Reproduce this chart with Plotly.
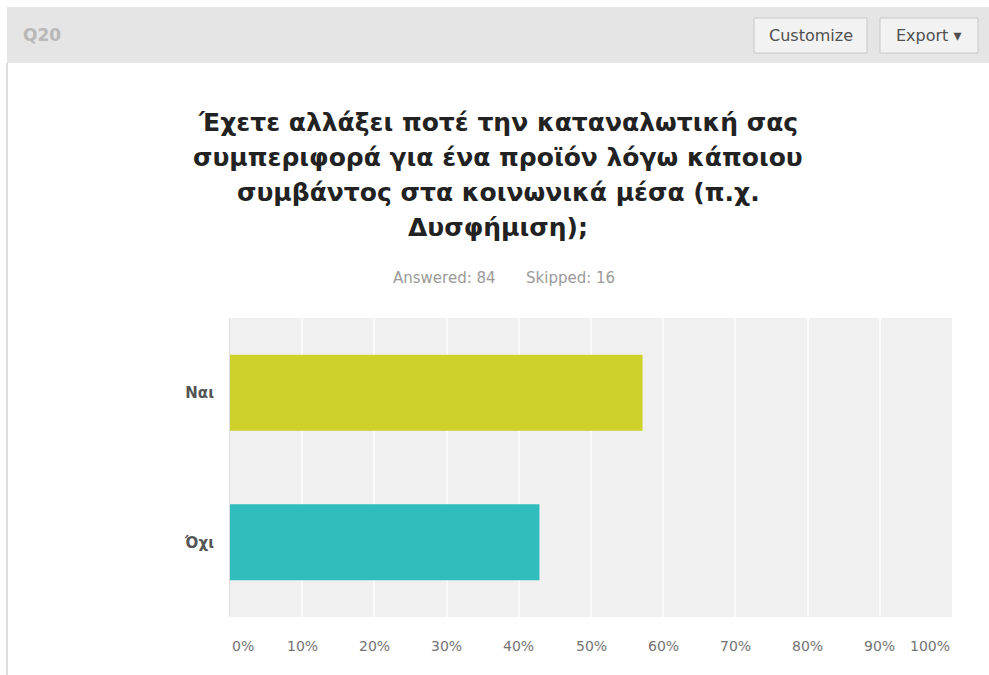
import plotly.graph_objects as go

# Survey question Q20 results
categories = ["Ναι", "Όχι"]
percentages = [57.14, 42.86]
bar_colors = ["#cdd129", "#31bdbd"]
tick_values = [0, 10, 20, 30, 40, 50, 60, 70, 80, 90, 100]
tick_labels = ["0%", "10%", "20%", "30%", "40%", "50%", "60%", "70%", "80%", "90%", "100%"]
title_lines = [
    "Έχετε αλλάξει ποτέ την καταναλωτική σας",
    "συμπεριφορά για ένα προϊόν λόγω κάποιου",
    "συμβάντος στα κοινωνικά μέσα (π.χ.",
    "Δυσφήμιση);",
]
answered = 84
skipped = 16

W, H = 989, 675
SANS = "DejaVu Sans"


def py(pix):
    """Convert a pixel row (from top) to paper y."""
    return 1 - pix / H


def px(pix):
    return pix / W


fig = go.Figure()
fig.add_trace(go.Bar(
    y=categories,
    x=percentages,
    orientation="h",
    marker=dict(color=bar_colors, line=dict(width=0)),
    hoverinfo="skip",
))

shapes = [
    # header band
    dict(type="rect", xref="paper", yref="paper", x0=px(7), x1=1.0, y0=py(63), y1=py(7),
         fillcolor="#e5e5e5", line=dict(width=0), layer="below"),
    # left panel border
    dict(type="line", xref="paper", yref="paper", x0=px(7), x1=px(7), y0=0, y1=py(63),
         line=dict(color="#dcdcdc", width=2), layer="below"),
    # buttons
    dict(type="rect", xref="paper", yref="paper", x0=px(754), x1=px(867), y0=py(53), y1=py(18),
         fillcolor="#f2f2f2", line=dict(color="#c8c8c8", width=1), layer="below"),
    dict(type="rect", xref="paper", yref="paper", x0=px(880), x1=px(978), y0=py(53), y1=py(18),
         fillcolor="#f2f2f2", line=dict(color="#c8c8c8", width=1), layer="below"),
]

annotations = [
    dict(text="<b>Q20</b>", xref="paper", yref="paper", x=px(21), y=py(35), xanchor="left",
         yanchor="middle", showarrow=False, font=dict(family=SANS, size=17, color="#b8b8b8")),
    dict(text="Customize", xref="paper", yref="paper", x=px(810.5), y=py(35.5), xanchor="center",
         yanchor="middle", showarrow=False, font=dict(family=SANS, size=16, color="#505050")),
    dict(text="Export ▾", xref="paper", yref="paper", x=px(929), y=py(35.5), xanchor="center",
         yanchor="middle", showarrow=False, font=dict(family=SANS, size=16, color="#505050")),
    dict(text=f"Answered: {answered}", xref="paper", yref="paper",
         x=px(444), y=py(278), xanchor="center", yanchor="middle", showarrow=False,
         font=dict(family=SANS, size=15, color="#9a9a9a")),
    dict(text=f"Skipped: {skipped}", xref="paper", yref="paper",
         x=px(570), y=py(278), xanchor="center", yanchor="middle", showarrow=False,
         font=dict(family=SANS, size=15, color="#9a9a9a")),
]

# title, one annotation per line
for i, line in enumerate(title_lines):
    annotations.append(dict(
        text=f"<b>{line}</b>", xref="paper", yref="paper", x=px(498), y=py(122 + 35 * i),
        xanchor="center", yanchor="middle", showarrow=False,
        font=dict(family=SANS, size=25, color="#222222"),
    ))

# x tick labels: end labels are kept inside the plot edges
for v, lab in zip(tick_values, tick_labels):
    anchor = "left" if v == tick_values[0] else ("right" if v == tick_values[-1] else "center")
    annotations.append(dict(
        text=lab, xref="x", yref="paper", x=v, y=py(646), xanchor=anchor, yanchor="middle",
        showarrow=False, font=dict(family=SANS, size=14, color="#737373"),
    ))

fig.update_layout(
    width=W, height=H,
    margin=dict(l=0, r=0, t=0, b=0),
    paper_bgcolor="white",
    plot_bgcolor="#f0f0f0",
    showlegend=False,
    bargap=0.49,
    shapes=shapes,
    annotations=annotations,
    xaxis=dict(
        domain=[px(230), px(952)], range=[0, 100], tickvals=tick_values,
        showticklabels=False, showgrid=True, gridcolor="#fafafa", gridwidth=2,
        zeroline=False, showline=False, fixedrange=True,
    ),
    yaxis=dict(
        domain=[py(617), py(318)], autorange="reversed", showgrid=False,
        showline=True, linecolor="#dddddd", linewidth=1, ticks="", ticklabelstandoff=12,
        tickfont=dict(family=SANS, size=15, color="#555555", weight="bold"),
        fixedrange=True,
    ),
)

fig.write_html("out.html")
